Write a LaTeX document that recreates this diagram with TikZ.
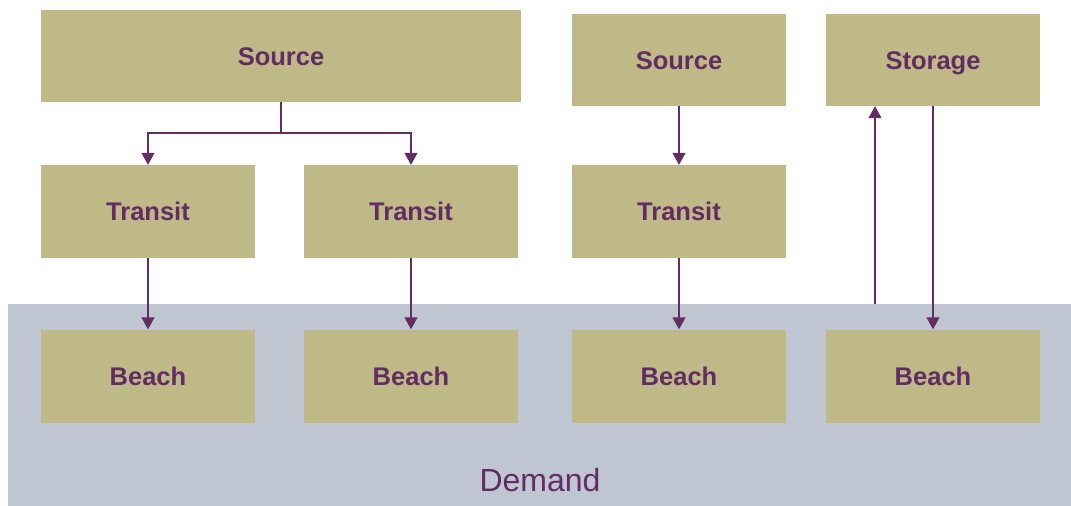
\documentclass[tikz,border=0pt]{standalone}
\usepackage{fontspec}
\setmainfont{Liberation Sans}
\usetikzlibrary{arrows.meta,calc}
\definecolor{boxfill}{RGB}{191,185,135}
\definecolor{demfill}{RGB}{191,197,209}
\definecolor{purp}{RGB}{97,45,99}
\tikzset{
  box/.style={rectangle, fill=boxfill, draw=none, minimum width=214pt, minimum height=93pt, inner sep=0pt,
    text=purp, font=\fontsize{25.5}{30}\selectfont\bfseries, text height=18.5pt, text depth=0.5pt},
  arr/.style={draw=purp, line width=1.4pt, -{Triangle[width=13pt,length=12pt]}},
}
\begin{document}
\begin{tikzpicture}[x=1pt,y=-1pt]
\useasboundingbox (0,0) rectangle (1071,506);
\fill[demfill] (8,304) rectangle (1071,506);
\node[text=purp, font=\fontsize{32}{38}\selectfont] (demand) at (540,480) {Demand};
\node[box, minimum width=480pt, minimum height=92pt] (src1) at (281,56) {Source};
\node[box, minimum height=92pt] (src2) at (679,60) {Source};
\node[box, minimum height=92pt] (stor) at (933,60) {Storage};
\node[box] (t1) at (148,211.5) {Transit};
\node[box] (t2) at (411,211.5) {Transit};
\node[box] (t3) at (679,211.5) {Transit};
\node[box] (b1) at (148,376) {Beach};
\node[box] (b2) at (411,376) {Beach};
\node[box] (b3) at (679,376) {Beach};
\node[box] (b4) at (933,376) {Beach};
\coordinate (split) at (281,133);
\coordinate (up0) at (875,304);
\draw[arr] (src1.south) -- (split) -| (t1.north);
\draw[arr] (split) -| (t2.north);
\draw[arr] (src2.south) -- (t3.north);
\draw[arr] (t1.south) -- (b1.north);
\draw[arr] (t2.south) -- (b2.north);
\draw[arr] (t3.south) -- (b3.north);
\draw[arr] (up0) -- (up0 |- stor.south);
\draw[arr] (stor.south) -- (b4.north);
\end{tikzpicture}
\end{document}
